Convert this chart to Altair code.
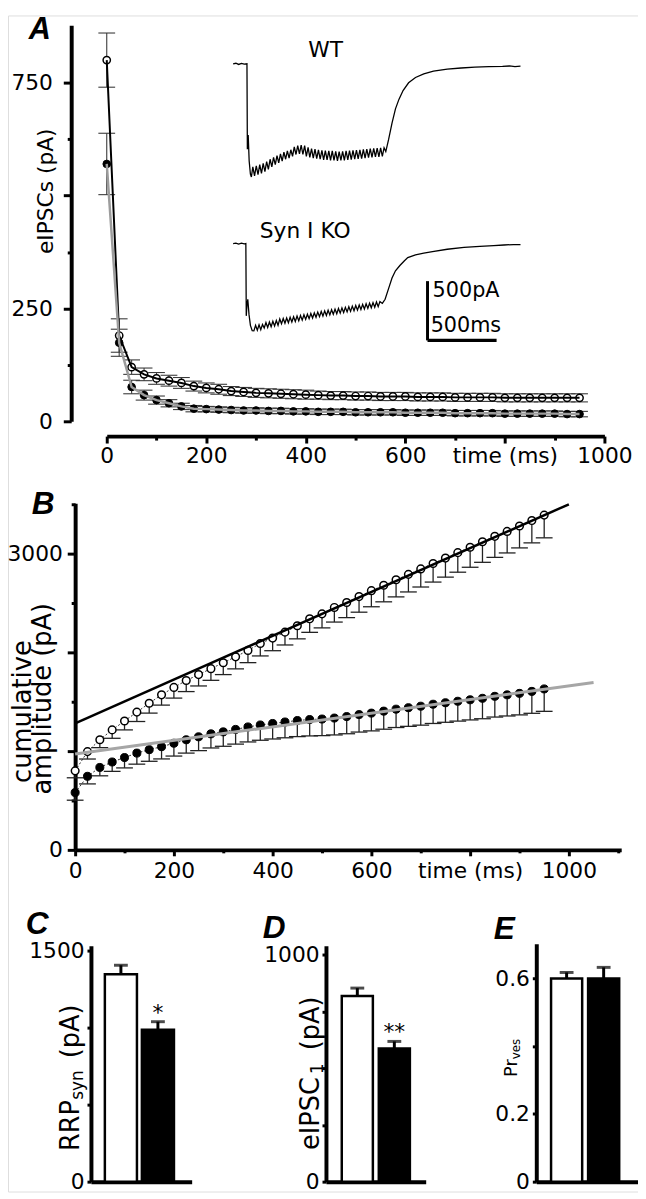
import altair as alt
import pandas as pd

FONT = "DejaVu Sans"
LETTER_FONT = "Liberation Sans"
M = 8            # page margin
W, H = 638, 1191  # drawing area (whole figure)


def px(x):
    return x - M


def py(y):
    return y - M


# ---------------- data ----------------
stim_t = [0, 25, 50, 75, 100, 125, 150, 175, 200, 225, 250, 275, 300, 325, 350,
          375, 400, 425, 450, 475, 500, 525, 550, 575, 600, 625, 650, 675, 700,
          725, 750, 775, 800, 825, 850, 875, 900, 925, 950]

# Panel A: eIPSC amplitude (pA)
wt_amp = [800, 190, 120, 104, 95, 90, 85, 78, 74, 71, 67, 65, 63, 62, 61, 60, 59,
          58, 57, 57, 56, 56, 55, 55, 55, 54, 54, 54, 53, 53, 53, 53, 52, 52, 52,
          52, 52, 52, 52]
wt_amp_sem = [60, 37, 16, 14, 13, 12, 12, 11, 11, 11, 10, 10, 10, 10, 10, 10, 10,
              9, 9, 9, 9, 9, 9, 9, 9, 9, 9, 9, 9, 9, 9, 9, 9, 9, 9, 9, 9, 9, 9]
ko_amp = [570, 174, 76, 58, 47, 40, 33, 28, 27, 26, 25, 24, 24, 23, 23, 22, 22,
          21, 21, 21, 20, 20, 20, 20, 19, 19, 19, 19, 18, 18, 18, 18, 17, 17, 17,
          17, 17, 16, 16]
ko_amp_sem = [68, 30, 15, 11, 9, 8, 7, 7, 6, 6, 6, 6, 6, 6, 6, 6, 6, 6, 6, 6, 6,
              6, 6, 6, 6, 6, 6, 6, 6, 6, 6, 6, 6, 6, 6, 6, 6, 6, 6]

# Panel B: cumulative amplitude (pA)
wt_cum = [800, 995, 1115, 1215, 1305, 1395, 1485, 1570, 1645, 1715, 1775, 1835,
          1895, 1955, 2020, 2090, 2145, 2205, 2270, 2340, 2390, 2455, 2505, 2565,
          2625, 2680, 2735, 2790, 2845, 2900, 2955, 3010, 3065, 3120, 3175, 3225,
          3280, 3335, 3390]
wt_cum_sem = [70, 75, 80, 85, 90, 95, 100, 104, 108, 112, 115, 118, 120, 122,
              124, 126, 128, 130, 133, 137, 142, 148, 153, 158, 163, 168, 173,
              178, 183, 188, 193, 198, 203, 208, 213, 218, 222, 226, 230]
ko_cum = [580, 745, 835, 890, 935, 980, 1015, 1045, 1080, 1115, 1145, 1175, 1195,
          1220, 1245, 1265, 1280, 1295, 1310, 1320, 1325, 1335, 1350, 1370, 1385,
          1405, 1425, 1440, 1455, 1475, 1490, 1505, 1520, 1535, 1555, 1570, 1585,
          1605, 1630]
ko_cum_sem = [77, 77, 85, 95, 105, 112, 118, 124, 130, 135, 140, 143, 146, 149,
              152, 155, 157, 160, 163, 166, 168, 171, 174, 177, 180, 183, 186,
              189, 192, 195, 198, 201, 204, 207, 210, 214, 218, 222, 227]
# linear fits (endpoints)
wt_fit_t = [0, 1000]
wt_fit_v = [1280, 3500]
ko_fit_t = [0, 1050]
ko_fit_v = [970, 1695]

# Panels C-E
groups = ["WT", "KO"]
rrp_mean = [1345, 985]
rrp_sem = [58, 52]
rrp_star = ["", "*"]
ipsc1_mean = [818, 587]
ipsc1_sem = [35, 31]
ipsc1_star = ["", "**"]
prves_mean = [0.600, 0.600]
prves_sem = [0.018, 0.033]

# Inset traces (time ms, current pA)
wt_trace = [
    (0, 0), (20, 5), (40, -5), (60, 4), (80, -3), (100, 0), (103, -720), (109, -600),
    (116, -820), (125, -930), (132, -955), (142.5, -870), (155, -945), (167.5, -860),
    (180, -935), (192.5, -850), (205, -925), (217.5, -840), (230, -910), (242.5, -825),
    (255, -890), (267.5, -805), (280, -870), (292.5, -790), (305, -850), (317.5, -775),
    (330, -835), (342.5, -760), (355, -820), (367.5, -745), (380, -805), (392.5, -735),
    (405, -795), (417.5, -725), (430, -780), (442.5, -700), (455, -765), (467.5, -690),
    (480, -760), (492.5, -685), (505, -765), (517.5, -690), (530, -780), (542.5, -705),
    (555, -790), (567.5, -715), (580, -795), (592.5, -720), (605, -800), (617.5, -725),
    (630, -805), (642.5, -730), (655, -810), (667.5, -732), (680, -810), (692.5, -735),
    (705, -815), (717.5, -735), (730, -815), (742.5, -738), (755, -818), (767.5, -740),
    (780, -815), (792.5, -738), (805, -815), (817.5, -735), (830, -810), (842.5, -732),
    (855, -808), (867.5, -730), (880, -805), (892.5, -728), (905, -802), (917.5, -725),
    (930, -800), (942.5, -722), (955, -795), (967.5, -720), (980, -792), (992.5, -716),
    (1005, -790), (1017.5, -714), (1030, -786), (1042.5, -712), (1055, -784),
    (1067.5, -710), (1080, -780), (1092.5, -708), (1105, -740), (1125, -640),
    (1150, -500), (1175, -380), (1200, -300), (1230, -225), (1270, -160), (1320, -115),
    (1380, -85), (1450, -62), (1550, -45), (1650, -35), (1750, -28), (1850, -24),
    (1950, -22), (2000, -18), (2040, -24), (2080, -20)]
ko_trace = [
    (0, 0), (20, 4), (40, -4), (60, 3), (80, -2), (92, 0), (95, -610), (100, -520),
    (106, -470), (115, -600), (125, -690), (138, -735), (150, -737), (162.5, -690),
    (175, -731), (187.5, -686), (200, -727), (212.5, -682), (225, -713), (237.5, -667),
    (250, -708), (262.5, -662), (275, -702), (287.5, -656), (300, -696), (312.5, -650),
    (325, -690), (337.5, -636), (350, -677), (362.5, -632), (375, -673), (387.5, -628),
    (400, -668), (412.5, -622), (425, -662), (437.5, -617), (450, -657), (462.5, -612),
    (475, -652), (487.5, -607), (500, -646), (512.5, -601), (525, -640), (537.5, -596),
    (550, -634), (562.5, -590), (575, -628), (587.5, -585), (600, -622), (612.5, -578),
    (625, -617), (637.5, -573), (650, -612), (662.5, -568), (675, -607), (687.5, -563),
    (700, -602), (712.5, -558), (725, -597), (737.5, -553), (750, -592), (762.5, -548),
    (775, -587), (787.5, -543), (800, -582), (812.5, -538), (825, -577), (837.5, -533),
    (850, -572), (862.5, -528), (875, -567), (887.5, -523), (900, -562), (912.5, -518),
    (925, -557), (937.5, -513), (950, -552), (962.5, -508), (975, -547), (987.5, -503),
    (1000, -542), (1012.5, -498), (1025, -537), (1037.5, -493), (1050, -532),
    (1062.5, -490), (1080, -505), (1100, -470), (1125, -380), (1150, -290),
    (1175, -230), (1207, -185), (1240, -145), (1264, -118), (1320, -95), (1380, -80),
    (1443, -67), (1550, -48), (1671, -33), (1786, -24), (1886, -17), (1960, -12),
    (2029, -8), (2080, -8)]
SCALE_MS = 500
SCALE_PA = 500

# ---------------- helpers ----------------
AX = dict(domainColor="black", tickColor="black", labelColor="black",
          labelFont=FONT, labelFontSize=22, grid=False, title=None,
          labelOverlap=False, labelFlush=False, tickWidth=3, domainWidth=4)


def cond_tick(test, big, small):
    return {"condition": {"test": test, "value": big}, "value": small}


def text_layer(s, x, y, size=22, font=FONT, weight="normal", style="normal",
               angle=0, align="left", baseline="alphabetic"):
    return alt.Chart(pd.DataFrame({"s": [s]})).mark_text(
        font=font, fontSize=size, fontWeight=weight, fontStyle=style,
        angle=angle, align=align, baseline=baseline, color="black", fill="black"
    ).encode(text="s", x=alt.value(px(x)), y=alt.value(py(y)))


# ---------------- panel A ----------------
xA = alt.Scale(domain=[0, 1000], range=[px(108), px(612)], nice=False, zero=False)
yA = alt.Scale(domain=[0, 877], range=[py(419), py(18)], nice=False, zero=False)
axA_x = alt.Axis(orient="bottom", offset=py(434) - H,
                 values=list(range(0, 1001, 100)), format="d",
                 labelExpr="datum.value == 800 ? 'time (ms)' : (datum.value % 200 == 0 ? datum.label : '')",
                 tickSize=cond_tick("datum.value % 200 == 0", 7, 4), labelPadding=3, **AX)
axA_y = alt.Axis(orient="left", offset=-px(72), values=list(range(0, 751, 125)),
                 format="d",
                 labelExpr="indexof([0, 250, 750], datum.value) >= 0 ? datum.label : ''",
                 tickSize=cond_tick("datum.value % 250 == 0", 8, 4), labelPadding=11, **AX)


def XA(f):
    return alt.X(f, type="quantitative", scale=xA, axis=axA_x)


def YA(f):
    return alt.Y(f, type="quantitative", scale=yA, axis=axA_y)


dfA_wt = pd.DataFrame({"t": stim_t, "v": wt_amp, "e": wt_amp_sem})
dfA_ko = pd.DataFrame({"t": stim_t, "v": ko_amp, "e": ko_amp_sem})

A_layers = []
for df in (dfA_wt, dfA_ko):
    base = alt.Chart(df).transform_calculate(lo="datum.v - datum.e", hi="datum.v + datum.e")
    A_layers.append(base.mark_rule(color="#3a3a3a", strokeWidth=1.1).encode(
        x=XA("t"), y=YA("lo"), y2="hi"))
    for f in ("lo", "hi"):
        A_layers.append(base.mark_rule(color="#3a3a3a", strokeWidth=1.1,
                                       xOffset=-8.5, x2Offset=8.5).encode(
            x=XA("t"), x2="t", y=YA(f)))
A_layers += [
    alt.Chart(dfA_wt).mark_point(shape="circle", filled=True, fill="white", stroke="black",
                                 strokeWidth=1.5, size=55, opacity=1).encode(x=XA("t"), y=YA("v")),
    alt.Chart(dfA_wt).mark_line(color="black", strokeWidth=2).encode(x=XA("t"), y=YA("v")),
    alt.Chart(dfA_ko).mark_point(shape="circle", filled=True, fill="black", stroke="black",
                                 strokeWidth=1, size=60, opacity=1).encode(x=XA("t"), y=YA("v")),
    alt.Chart(dfA_ko).mark_line(color="#9c9c9c", strokeWidth=2.5).encode(x=XA("t"), y=YA("v")),
]
panelA = alt.layer(*A_layers)

# ---------------- panel B ----------------
xB = alt.Scale(domain=[0, 1106], range=[px(76), px(629)], nice=False, zero=False)
yB = alt.Scale(domain=[0, 3510], range=[py(853), py(502)], nice=False, zero=False)
axB_x = alt.Axis(orient="bottom", offset=py(853) - H,
                 values=list(range(0, 1101, 100)), format="d",
                 labelExpr="datum.value == 800 ? 'time (ms)' : (datum.value % 200 == 0 && datum.value <= 1000 ? datum.label : '')",
                 tickSize=cond_tick("datum.value % 200 == 0", 6, 3), labelPadding=5, **AX)
axB_y = alt.Axis(orient="left", offset=-px(76), values=list(range(0, 3501, 500)),
                 format="d",
                 labelExpr="datum.value == 0 || datum.value == 3000 ? datum.label : ''",
                 tickSize=cond_tick("datum.value % 1000 == 0", 8, 4), labelPadding=5, **AX)


def XB(f):
    return alt.X(f, type="quantitative", scale=xB, axis=axB_x)


def YB(f):
    return alt.Y(f, type="quantitative", scale=yB, axis=axB_y)


dfB_wt = pd.DataFrame({"t": stim_t, "v": wt_cum, "e": wt_cum_sem})
dfB_ko = pd.DataFrame({"t": stim_t, "v": ko_cum, "e": ko_cum_sem})
dfB_wtfit = pd.DataFrame({"t": wt_fit_t, "v": wt_fit_v})
dfB_kofit = pd.DataFrame({"t": ko_fit_t, "v": ko_fit_v})

B_layers = []
for df in (dfB_wt, dfB_ko):
    B_layers.append(alt.Chart(df).mark_line(color="black", strokeWidth=0.8,
                                            strokeDash=[2, 2]).encode(x=XB("t"), y=YB("v")))
for df in (dfB_wt, dfB_ko):
    base = alt.Chart(df).transform_calculate(lo="datum.v - datum.e")
    B_layers.append(base.mark_rule(color="#222222", strokeWidth=1.3).encode(
        x=XB("t"), y=YB("lo"), y2="v"))
    B_layers.append(base.mark_rule(color="#222222", strokeWidth=1.3,
                                   xOffset=-8.5, x2Offset=8.5).encode(
        x=XB("t"), x2="t", y=YB("lo")))
B_layers += [
    alt.Chart(dfB_wt).mark_point(shape="circle", filled=True, fill="white", stroke="black",
                                 strokeWidth=1.5, size=60, opacity=1).encode(x=XB("t"), y=YB("v")),
    alt.Chart(dfB_ko).mark_point(shape="circle", filled=True, fill="black", stroke="black",
                                 strokeWidth=1, size=66, opacity=1).encode(x=XB("t"), y=YB("v")),
    alt.Chart(dfB_wtfit).mark_line(color="black", strokeWidth=2.5).encode(x=XB("t"), y=YB("v")),
    alt.Chart(dfB_kofit).mark_line(color="#a6a6a6", strokeWidth=3).encode(x=XB("t"), y=YB("v")),
]
panelB = alt.layer(*B_layers)


# ---------------- panels C, D, E ----------------
def bar_panel(means, sems, stars, x0, x1, ytop_px, ydom, ticks, label_expr,
              p_inner, p_outer, align, fmt):
    xs = alt.Scale(domain=groups, range=[px(x0), px(x1)], paddingInner=p_inner,
                   paddingOuter=p_outer, align=align)
    ys = alt.Scale(domain=[0, ydom], range=[py(1189), py(ytop_px)], nice=False, zero=True)
    ax_x = alt.Axis(orient="bottom", offset=py(1189) - H, labels=False, ticks=False,
                    domainColor="black", domainWidth=4, grid=False, title=None)
    ax_y = alt.Axis(orient="left", offset=-px(x0), values=ticks, format=fmt,
                    labelExpr=label_expr, tickSize=4, labelPadding=3, **AX)
    df = pd.DataFrame({"g": groups, "v": means, "e": sems, "star": stars})
    base = alt.Chart(df).transform_calculate(top="datum.v + datum.e")
    X = alt.X("g", type="nominal", scale=xs, axis=ax_x, sort=groups)

    def Y(f):
        return alt.Y(f, type="quantitative", scale=ys, axis=ax_y)

    bars = base.mark_bar(stroke="black", strokeWidth=2.5).encode(
        x=X, y=Y("v"),
        color=alt.Color("g", type="nominal",
                        scale=alt.Scale(domain=groups, range=["white", "black"]),
                        legend=None))
    stem = base.mark_rule(color="black", strokeWidth=3).encode(x=X, y=Y("v"), y2="top")
    cap = base.mark_tick(color="black", size=14, thickness=3).encode(x=X, y=Y("top"))
    star = base.mark_text(font=FONT, fontSize=22, baseline="alphabetic", dy=-2,
                          color="black", fill="black").encode(x=X, y=Y("top"), text="star")
    return alt.layer(bars, stem, cap, star)


panelC = bar_panel(rrp_mean, rrp_sem, rrp_star, 92, 194, 950, 1530,
                   [0, 500, 1000, 1500],
                   "datum.value == 0 || datum.value == 1500 ? datum.label : ''",
                   0.133, 0.427, 0.44, "d")
panelD = bar_panel(ipsc1_mean, ipsc1_sem, ipsc1_star, 330, 431, 950, 1040,
                   [0, 250, 500, 750, 1000],
                   "datum.value == 0 || datum.value == 1000 ? datum.label : ''",
                   0.16, 0.427, 0.5, "d")
panelE = bar_panel(prves_mean, prves_sem, ["", ""], 543, 646, 948, 0.703,
                   [0, 0.2, 0.4, 0.6],
                   "datum.value == 0 ? '0' : (abs(datum.value - 0.4) < 0.001 ? '' : format(datum.value, '.1f'))",
                   0.16, 0.453, 0.44, ".1f")

# ---------------- inset traces ----------------
xT = alt.Scale(domain=[0, 2080], range=[px(236), px(527)], nice=False, zero=False)
yWT = alt.Scale(domain=[-1000, 0], range=[py(177), py(57)], nice=False, zero=False)
yKO = alt.Scale(domain=[-1000, 0], range=[py(359), py(239)], nice=False, zero=False)

df_wt_tr = pd.DataFrame(wt_trace, columns=["t", "i"])
df_ko_tr = pd.DataFrame(ko_trace, columns=["t", "i"])
wt_tr = alt.Chart(df_wt_tr).mark_line(color="black", strokeWidth=1.3).encode(
    x=alt.X("t", type="quantitative", scale=xT, axis=None),
    y=alt.Y("i", type="quantitative", scale=yWT, axis=None))

SB_T0, SB_I0 = 1407, -817  # anchor of the scale bar (trace units)
df_sbv = pd.DataFrame({"t": [SB_T0], "i": [SB_I0], "i2": [SB_I0 + SCALE_PA]})
df_sbh = pd.DataFrame({"t": [SB_T0], "t2": [SB_T0 + SCALE_MS], "i": [SB_I0]})
XT = alt.X("t", type="quantitative", scale=xT, axis=None)
YK = alt.Y("i", type="quantitative", scale=yKO, axis=None)
ko_tr = alt.layer(
    alt.Chart(df_ko_tr).mark_line(color="black", strokeWidth=1.3).encode(x=XT, y=YK),
    alt.Chart(df_sbv).mark_rule(color="black", strokeWidth=3).encode(x=XT, y=YK, y2="i2"),
    alt.Chart(df_sbh).mark_rule(color="black", strokeWidth=3.5).encode(x=XT, x2="t2", y=YK),
)

# ---------------- texts ----------------
texts = [
    text_layer("A", 29, 32, 31, LETTER_FONT, "bold", "italic"),
    text_layer("B", 32, 513, 32, LETTER_FONT, "bold", "italic"),
    text_layer("C", 26, 938, 32, LETTER_FONT, "bold", "italic"),
    text_layer("D", 266, 942, 32, LETTER_FONT, "bold", "italic"),
    text_layer("E", 500, 943, 32, LETTER_FONT, "bold", "italic"),
    text_layer("WT", 312, 50, 22),
    text_layer("Syn I KO", 263, 233, 22),
    text_layer("500pA", 438, 293, 21),
    text_layer("500ms", 436, 329, 21),
    text_layer("eIPSCs (pA)", 54, 186, 22, angle=270, align="center"),
    text_layer("cumulative", 31, 713, 26, angle=270, align="center"),
    text_layer("amplitude (pA)", 52, 700, 26, angle=270, align="center"),
    text_layer("RRP", 80, 1158, 26, angle=270),
    text_layer("syn", 84, 1106, 17, angle=270),
    text_layer("(pA)", 80, 1064, 26, angle=270),
    text_layer("eIPSC", 323, 1157, 26, angle=270),
    text_layer("1", 327, 1080, 17, angle=270),
    text_layer("(pA)", 323, 1056, 26, angle=270),
    text_layer("Pr", 523, 1083, 18, angle=270),
    text_layer("ves", 526, 1065, 12, angle=270),
]

chart = alt.layer(panelA, panelB, panelC, panelD, panelE, wt_tr, ko_tr, *texts).resolve_scale(
    x="independent", y="independent"
).properties(
    width=W, height=H, autosize=alt.AutoSizeParams(type="none"), padding=0
).configure_view(stroke=None).configure(background="white")

chart.save("out.html", embed_options={"renderer": "svg", "actions": False})
